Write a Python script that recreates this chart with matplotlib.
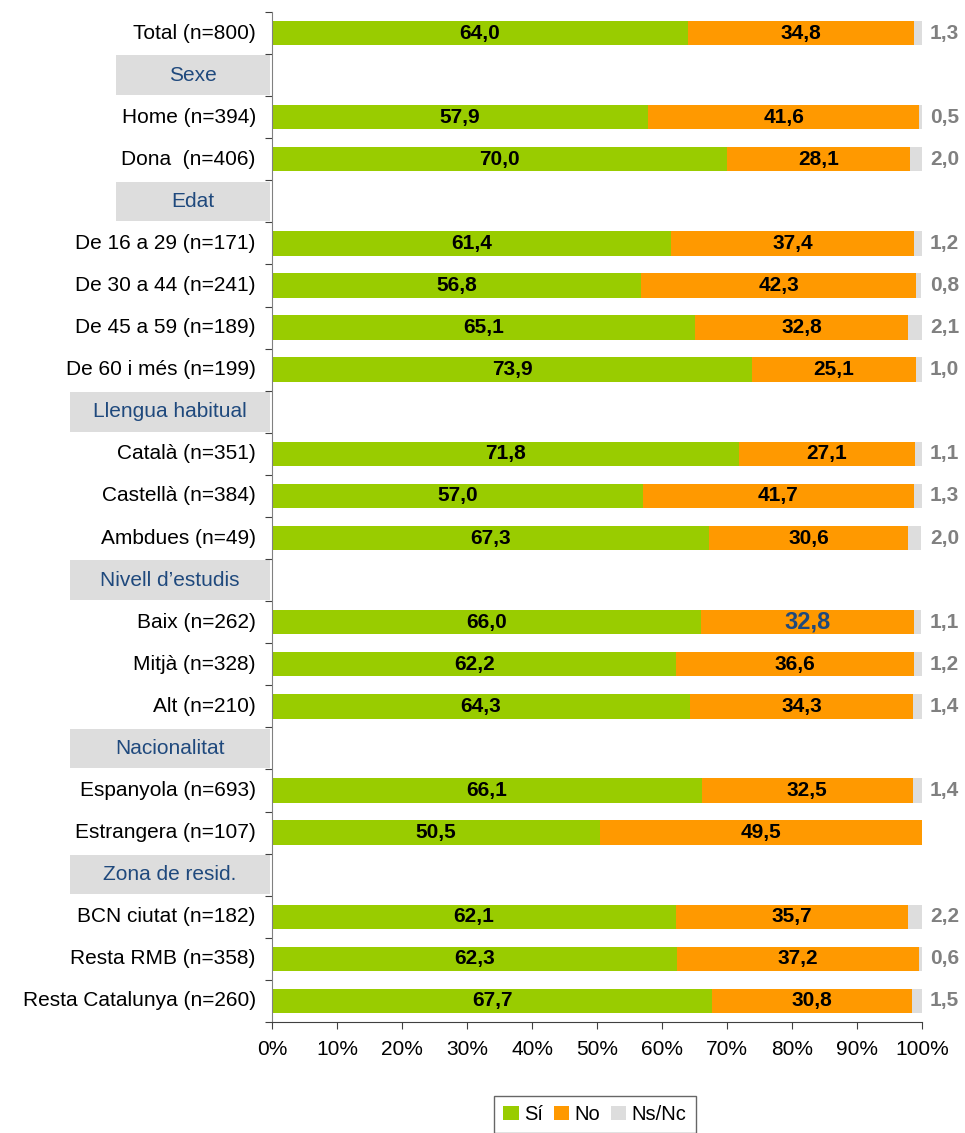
import numpy as np
import matplotlib.pyplot as plt
from matplotlib.patches import Rectangle, Patch
from matplotlib.transforms import blended_transform_factory

plt.rcParams['font.family'] = ['Liberation Sans', 'DejaVu Sans']

labels = ["Total (n=800)", "Sexe", "Home (n=394)", "Dona  (n=406)", "Edat",
          "De 16 a 29 (n=171)", "De 30 a 44 (n=241)", "De 45 a 59 (n=189)", "De 60 i més (n=199)",
          "Llengua habitual", "Català (n=351)", "Castellà (n=384)", "Ambdues (n=49)",
          "Nivell d\u2019estudis", "Baix (n=262)", "Mitjà (n=328)", "Alt (n=210)",
          "Nacionalitat", "Espanyola (n=693)", "Estrangera (n=107)",
          "Zona de resid.", "BCN ciutat (n=182)", "Resta RMB (n=358)", "Resta Catalunya (n=260)"]
headers = ["Sexe", "Edat", "Llengua habitual", "Nivell d\u2019estudis", "Nacionalitat", "Zona de resid."]
nan = np.nan
si = [64.0, nan, 57.9, 70.0, nan, 61.4, 56.8, 65.1, 73.9, nan, 71.8, 57.0, 67.3,
      nan, 66.0, 62.2, 64.3, nan, 66.1, 50.5, nan, 62.1, 62.3, 67.7]
no = [34.8, nan, 41.6, 28.1, nan, 37.4, 42.3, 32.8, 25.1, nan, 27.1, 41.7, 30.6,
      nan, 32.8, 36.6, 34.3, nan, 32.5, 49.5, nan, 35.7, 37.2, 30.8]
nsnc = [1.3, nan, 0.5, 2.0, nan, 1.2, 0.8, 2.1, 1.0, nan, 1.1, 1.3, 2.0,
        nan, 1.1, 1.2, 1.4, nan, 1.4, 0.0, nan, 2.2, 0.6, 1.5]
series_names = ["Sí", "No", "Ns/Nc"]
colors = ["#99CC00", "#FF9900", "#DDDDDD"]

si = np.array(si); no = np.array(no); nsnc = np.array(nsnc)
n = len(labels)
y = np.arange(n)

fig = plt.figure(figsize=(9.65, 11.33), dpi=100)
ax = fig.add_axes([0.2819, 0.0980, 0.6736, 0.8914])

bh = 0.58
ax.barh(y, si, height=bh, color=colors[0])
ax.barh(y, no, left=si, height=bh, color=colors[1])
ax.barh(y, nsnc, left=si + no, height=bh, color=colors[2])

def fmt(v):
    return f"{v:.1f}".replace(".", ",")

trans = blended_transform_factory(ax.transAxes, ax.transData)
for i, lab in enumerate(labels):
    if lab in headers:
        left = -0.24 if len(lab) <= 5 else -0.311
        ax.add_patch(Rectangle((left, i - 0.47), -0.003 - left, 0.94, transform=trans,
                               facecolor="#DDDDDD", edgecolor="none", clip_on=False))
        ax.text((left - 0.003) / 2, i, lab, transform=trans, ha="center", va="center",
                fontsize=15, color="#1F497D")
        continue
    ax.text(-0.025, i, lab, transform=trans, ha="right", va="center", fontsize=15)
    ax.text(si[i] / 2, i, fmt(si[i]), ha="center", va="center", fontsize=15, fontweight="bold")
    if lab.startswith("Baix"):
        ax.text(si[i] + no[i] / 2, i, fmt(no[i]), ha="center", va="center", fontsize=17,
                fontweight="bold", color="#1F497D")
    else:
        ax.text(si[i] + no[i] / 2, i, fmt(no[i]), ha="center", va="center", fontsize=15,
                fontweight="bold")
    if nsnc[i] > 0:
        ax.text(101.2, i, fmt(nsnc[i]), ha="left", va="center", fontsize=15,
                fontweight="bold", color="#808080")

ax.set_xlim(0, 100)
ax.set_ylim(n - 0.5, -0.5)
ax.set_xticks(np.arange(0, 101, 10))
ax.set_xticklabels([f"{v}%" for v in range(0, 101, 10)], fontsize=15)
ax.set_yticks(np.arange(-0.5, n, 1))
ax.set_yticklabels([])
ax.tick_params(axis="y", length=5, color="#404040")
ax.tick_params(axis="x", length=5, color="#404040", pad=8)
for s in ["top", "right"]:
    ax.spines[s].set_visible(False)
ax.spines["left"].set_color("#808080")
ax.spines["bottom"].set_color("#404040")

handles = [Patch(facecolor=c, edgecolor="none") for c in colors]
leg = fig.legend(handles, series_names, loc="upper center", bbox_to_anchor=(595 / 965, 1 - 1096 / 1133),
                 ncol=3, fontsize=14.5, frameon=True, fancybox=False, handlelength=0.75, handleheight=0.75,
                 handletextpad=0.3, columnspacing=0.5, borderpad=0.45, borderaxespad=0)
leg.get_frame().set_edgecolor("#404040")
leg.get_frame().set_linewidth(1)

fig.savefig("out.png", dpi=100)
